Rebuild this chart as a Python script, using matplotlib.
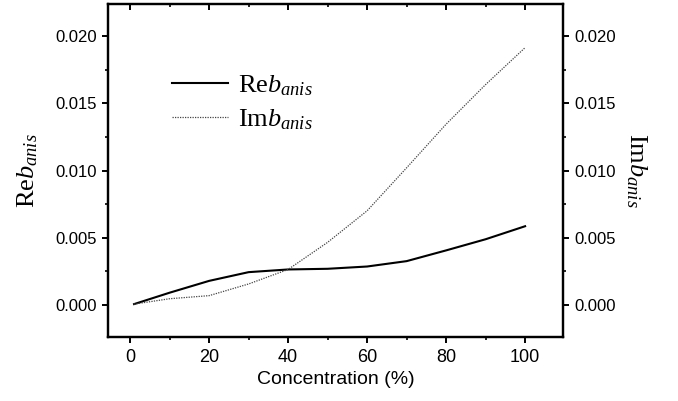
import matplotlib
matplotlib.use("Agg")
import matplotlib.pyplot as plt
from matplotlib.ticker import MultipleLocator, FormatStrFormatter

# values
conc = [1, 10, 20, 30, 40, 50, 60, 70, 80, 90, 100]
re_b = [0.00005, 0.0009, 0.00178, 0.00243, 0.00263, 0.00268, 0.00285, 0.00325, 0.00405, 0.00488, 0.00585]
im_b = [0.00005, 0.00045, 0.00068, 0.00155, 0.00263, 0.00465, 0.00700, 0.01020, 0.01345, 0.01640, 0.01915]

plt.rcParams.update({
    "font.family": "Liberation Sans",
    "font.size": 12,
    "mathtext.fontset": "custom",
    "mathtext.rm": "Liberation Serif",
    "mathtext.it": "Liberation Serif:italic",
})

fig = plt.figure(figsize=(6.78, 4.01), dpi=100)
ax = fig.add_axes([0.1593, 0.1596, 0.6711, 0.8304])

ax.plot(conc, re_b, color="black", lw=1.5, label=r"$\mathrm{Re}b_{anis}$")
ax.plot(conc, im_b, color="#444444", lw=0.9, ls=(0, (1, 1)), label=r"$\mathrm{Im}b_{anis}$")

ax.set_xlim(-5.6, 109.6)
ax.set_ylim(-0.0024, 0.0224)
ax.xaxis.set_major_locator(MultipleLocator(20))
ax.xaxis.set_minor_locator(MultipleLocator(10))
ax.yaxis.set_major_locator(MultipleLocator(0.005))
ax.yaxis.set_minor_locator(MultipleLocator(0.0025))
ax.yaxis.set_major_formatter(FormatStrFormatter("%.3f"))

for s in ax.spines.values():
    s.set_linewidth(1.6)
ax.tick_params(axis="both", which="major", direction="out", length=4.5, width=1.4, labelsize=12)
ax.tick_params(axis="x", which="major", labelsize=13, pad=4)
ax.tick_params(axis="both", which="minor", direction="out", length=2.5, width=1.2)
ax.tick_params(axis="x", top=True, which="both")

ax.set_xlabel("Concentration (%)", fontsize=14, labelpad=4)
ax.set_ylabel(r"$\mathrm{Re}b_{anis}$", fontsize=19, labelpad=11)

# top ticks point inward
for t in ax.xaxis.get_major_ticks() + ax.xaxis.get_minor_ticks():
    t.tick2line.set_marker(matplotlib.lines.TICKDOWN)

ax2 = ax.twinx()
ax2.set_ylim(ax.get_ylim())
ax2.yaxis.set_major_locator(MultipleLocator(0.005))
ax2.yaxis.set_minor_locator(MultipleLocator(0.0025))
ax2.yaxis.set_major_formatter(FormatStrFormatter("%.3f"))
ax2.tick_params(axis="y", which="major", direction="out", length=4.5, width=1.4, labelsize=12)
ax2.tick_params(axis="y", which="minor", direction="out", length=2.5, width=1.2)
for s in ax2.spines.values():
    s.set_linewidth(1.6)
ax2.set_ylabel(r"$\mathrm{Im}b_{anis}$", fontsize=19, rotation=270, labelpad=24)

ax.legend(loc="upper left", bbox_to_anchor=(0.089, 0.864), frameon=False, fontsize=19,
          handlelength=2.1, handletextpad=0.4, labelspacing=0.37)

fig.savefig("out.png", dpi=100)
